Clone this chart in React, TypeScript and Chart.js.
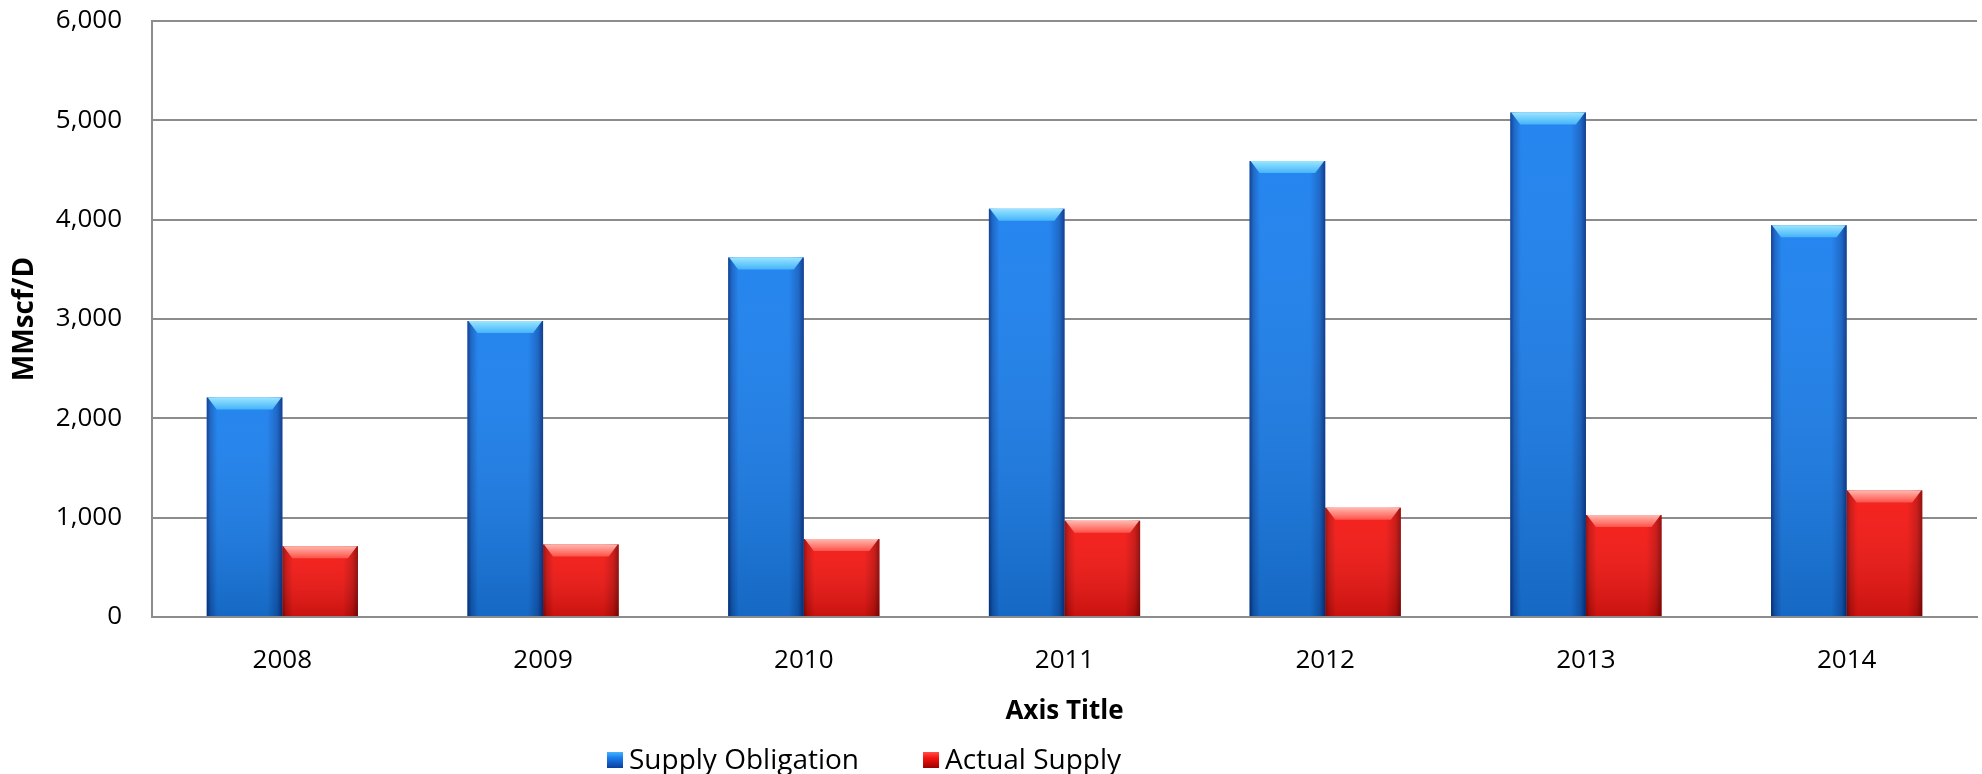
import React, { useEffect, useRef } from "react";
import { Chart, registerables } from "chart.js";

Chart.register(...registerables);

const categories = ["2008", "2009", "2010", "2011", "2012", "2013", "2014"];
const supplyObligation = [2210, 2980, 3620, 4110, 4590, 5080, 3945];
const actualSupply = [713, 730, 785, 970, 1100, 1026, 1274];
const seriesNames = ["Supply Obligation", "Actual Supply"];
const yMin = 0;
const yMax = 6000;
const yStep = 1000;
const yAxisTitle = "MMscf/D";
const xAxisTitle = "Axis Title";

const FONT = "'Open Sans', 'Liberation Sans', sans-serif";

const themes = [
  { base: "#1a7fee", edge: "rgba(0,25,100,", bevelTop: "#9ae6ff", bevelBottom: "#45b4fb", legendDark: "#0a3f9c" },
  { base: "#f51612", edge: "rgba(100,0,0,", bevelTop: "#ffb8b0", bevelBottom: "#ff5248", legendDark: "#9c0000" },
];

const shadePlugin = {
  id: "barShade",
  afterDatasetsDraw(chart: any) {
    const ctx = chart.ctx as CanvasRenderingContext2D;
    chart.data.datasets.forEach((_ds: any, di: number) => {
      const meta = chart.getDatasetMeta(di);
      const th = themes[di];
      meta.data.forEach((el: any) => {
        const { x, y, base, width } = el.getProps(["x", "y", "base", "width"], true);
        const left = x - width / 2;
        const right = x + width / 2;
        const top = Math.min(y, base);
        const bottom = Math.max(y, base);
        const h = bottom - top;
        if (h <= 0) return;
        ctx.save();
        const g = ctx.createLinearGradient(left, 0, right, 0);
        g.addColorStop(0, th.edge + "0.7)");
        g.addColorStop(0.05, th.edge + "0.3)");
        g.addColorStop(0.14, th.edge + "0)");
        g.addColorStop(0.8, th.edge + "0)");
        g.addColorStop(0.93, th.edge + "0.3)");
        g.addColorStop(1, th.edge + "0.75)");
        ctx.fillStyle = g;
        ctx.fillRect(left, top, width, h);
        const v = ctx.createLinearGradient(0, top, 0, bottom);
        v.addColorStop(0, "rgba(255,255,255,0.05)");
        v.addColorStop(1, "rgba(0,0,0,0.18)");
        ctx.fillStyle = v;
        ctx.fillRect(left, top, width, h);
        const bh = Math.min(12, h * 0.35);
        const inset = 10;
        const bg = ctx.createLinearGradient(0, top, 0, top + bh);
        bg.addColorStop(0, th.bevelTop);
        bg.addColorStop(1, th.bevelBottom);
        ctx.beginPath();
        ctx.moveTo(left + 1, top);
        ctx.lineTo(right - 1, top);
        ctx.lineTo(right - inset, top + bh);
        ctx.lineTo(left + inset, top + bh);
        ctx.closePath();
        ctx.fillStyle = bg;
        ctx.fill();
        ctx.restore();
      });
    });
  },
};

const legendPlugin = {
  id: "customLegend",
  afterDraw(chart: any) {
    const ctx = chart.ctx as CanvasRenderingContext2D;
    ctx.save();
    ctx.font = `28px ${FONT}`;
    ctx.textBaseline = "middle";
    ctx.textAlign = "left";
    let x = 607;
    const yc = 760;
    const box = 16;
    chart.data.datasets.forEach((ds: any, i: number) => {
      const th = themes[i];
      const g = ctx.createLinearGradient(0, yc - box / 2, 0, yc + box / 2);
      g.addColorStop(0, th.bevelBottom);
      g.addColorStop(0.35, th.base);
      g.addColorStop(1, th.legendDark);
      ctx.fillStyle = g;
      ctx.fillRect(x, yc - box / 2, box, box);
      ctx.fillStyle = "#000";
      const tx = x + box + 6;
      ctx.fillText(ds.label, tx, yc + 1);
      x = tx + ctx.measureText(ds.label).width + 64;
    });
    ctx.restore();
  },
};

export default function App() {
  const ref = useRef<HTMLCanvasElement | null>(null);
  useEffect(() => {
    document.body.style.margin = "0";
    const canvas = ref.current!;
    const chart = new Chart(canvas, {
      type: "bar",
      data: {
        labels: categories,
        datasets: [
          { label: seriesNames[0], data: supplyObligation, backgroundColor: themes[0].base, borderWidth: 0 },
          { label: seriesNames[1], data: actualSupply, backgroundColor: themes[1].base, borderWidth: 0 },
        ],
      },
      options: {
        animation: false,
        responsive: false,
        devicePixelRatio: 1,
        layout: { padding: { left: 0, right: 5, top: 21, bottom: 47 } },
        datasets: { bar: { categoryPercentage: 0.58, barPercentage: 1 } },
        plugins: { legend: { display: false }, tooltip: { enabled: false } },
        scales: {
          x: {
            grid: { display: false, drawTicks: false },
            border: { display: true, color: "#8c8c8c", width: 2 },
            ticks: { color: "#000", font: { family: FONT, size: 26 }, padding: 28 },
            title: { display: true, text: xAxisTitle, color: "#000", font: { family: FONT, size: 26, weight: "bold" }, padding: { top: 0, bottom: 0 } },
            afterFit(scale: any) {
              scale.height = 110;
              scale.paddingLeft = 0;
              scale.paddingRight = 0;
            },
          },
          y: {
            min: yMin,
            max: yMax,
            grid: { color: "#8c8c8c", lineWidth: 2, drawTicks: false },
            border: { display: true, color: "#8c8c8c", width: 2 },
            ticks: {
              stepSize: yStep,
              color: "#000",
              font: { family: FONT, size: 26 },
              padding: 30,
              callback: (v: any) => Number(v).toLocaleString("en-US"),
            },
            title: { display: true, text: yAxisTitle, color: "#000", font: { family: FONT, size: 28, weight: "bold" }, padding: { top: 8, bottom: 0 } },
            afterFit(scale: any) {
              scale.width = 152;
              scale.paddingTop = 0;
              scale.paddingBottom = 0;
            },
          },
        },
      },
      plugins: [shadePlugin, legendPlugin],
    });
    return () => chart.destroy();
  }, []);
  return (
    <div style={{ width: 1982, height: 774, background: "#fff" }}>
      <canvas ref={ref} width={1982} height={774} style={{ display: "block" }} />
    </div>
  );
}
